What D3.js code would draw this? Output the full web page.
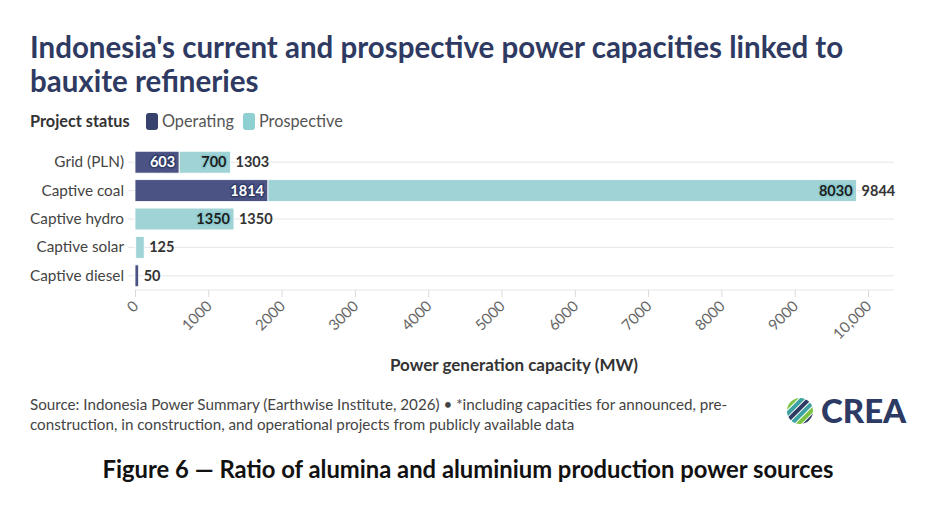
<!DOCTYPE html>
<html>
<head>
<meta charset="utf-8">
<script src="https://cdn.jsdelivr.net/npm/d3@7"></script>
<style>
  body { margin: 0; background: #fff; }
  svg { display: block; font-family: Lato, "Open Sans", sans-serif; }
</style>
</head>
<body>
<svg id="chart" width="949" height="507"></svg>
<script>
// chart data
var categories = ['Grid (PLN)', 'Captive coal', 'Captive hydro', 'Captive solar', 'Captive diesel'];
var operating = [603, 1814, 0, 10, 50];
var prospective = [700, 8030, 1350, 115, 0];
var totals = [1303, 9844, 1350, 125, 50];
var xTicks = [0, 1000, 2000, 3000, 4000, 5000, 6000, 7000, 8000, 9000, 10000];
var seriesNames = ['Operating', 'Prospective'];

var colOp = '#4a5383';
var colPro = '#9fd3d6';

var svg = d3.select('#chart');

var margin = { left: 135, right: 894, top: 148, bottom: 290 };

var x = d3.scaleLinear().domain([0, 10000]).range([margin.left, 868]);
var y = d3.scaleBand().domain(categories).range([margin.top, margin.bottom]).paddingInner(0.23).paddingOuter(0.115);

// title
var title = svg.append('text')
    .style('font-size', '29.5px').style('font-weight', 700)
    .style('fill', '#2f3a62');
title.append('tspan').attr('x', 30).attr('y', 58).text("Indonesia's current and prospective power capacities linked to");
title.append('tspan').attr('x', 30).attr('y', 92).text('bauxite refineries');

// legend
var legend = svg.append('g').attr('transform', 'translate(30,127)');
legend.append('text').attr('x', 0).attr('y', 0)
    .style('font-size', '16.3px').style('font-weight', 700).style('fill', '#333')
    .text('Project status');
var lx = 116;
seriesNames.forEach(function(name, i) {
    legend.append('rect')
        .attr('x', lx).attr('y', -14).attr('width', 12).attr('height', 17).attr('rx', 3)
        .attr('fill', i == 0 ? '#36416d' : '#8ecfd1');
    var t = legend.append('text').attr('x', lx + 16).attr('y', 0)
        .style('font-size', '16.3px').style('fill', '#555').text(name);
    lx += 16 + t.node().getComputedTextLength() + 9;
});

// gridlines at row centres
svg.append('g').selectAll('line').data(categories).enter().append('line')
    .attr('x1', 128).attr('x2', margin.right)
    .attr('y1', function(d) { return y(d) + y.bandwidth() / 2; })
    .attr('y2', function(d) { return y(d) + y.bandwidth() / 2; })
    .attr('stroke', '#e6e6e6').attr('stroke-width', 1);

// axis baseline
svg.append('line')
    .attr('x1', margin.left).attr('x2', margin.right)
    .attr('y1', margin.bottom).attr('y2', margin.bottom)
    .attr('stroke', '#e6e6e6');

// category labels
svg.append('g').selectAll('text').data(categories).enter().append('text')
    .attr('x', 124)
    .attr('y', function(d) { return y(d) + y.bandwidth() / 2 + 5; })
    .attr('text-anchor', 'end')
    .style('font-size', '15.3px').style('fill', '#444')
    .text(function(d) { return d; });

// bars
var rows = categories.map(function(c, i) {
    return { cat: c, op: operating[i], pro: prospective[i], total: totals[i] };
});

var barG = svg.append('g');
rows.forEach(function(r) {
    var yy = y(r.cat);
    var h = y.bandwidth();
    if (r.op > 0) {
        barG.append('rect')
            .attr('x', x(0)).attr('y', yy)
            .attr('width', x(r.op) - x(0)).attr('height', h)
            .attr('fill', colOp).attr('stroke', '#fff').attr('stroke-width', 0.8);
    }
    if (r.pro > 0) {
        barG.append('rect')
            .attr('x', x(r.op)).attr('y', yy)
            .attr('width', x(r.op + r.pro) - x(r.op)).attr('height', h)
            .attr('fill', colPro).attr('stroke', '#fff').attr('stroke-width', 0.8);
    }
    // segment labels inside when there is room
    if (x(r.op) - x(0) > 40) {
        barG.append('text')
            .attr('x', x(r.op) - 4).attr('y', yy + h / 2 + 5)
            .attr('text-anchor', 'end')
            .style('font-size', '14.5px').style('font-weight', 700)
            .style('fill', '#fff')
            .style('paint-order', 'stroke').style('stroke', '#323c68').style('stroke-width', 3)
            .style('stroke-linejoin', 'round')
            .text(r.op);
    }
    if (x(r.op + r.pro) - x(r.op) > 40) {
        barG.append('text')
            .attr('x', x(r.op + r.pro) - 4).attr('y', yy + h / 2 + 5)
            .attr('text-anchor', 'end')
            .style('font-size', '14.5px').style('font-weight', 700)
            .style('fill', '#1d1d1d')
            .style('paint-order', 'stroke').style('stroke', '#8ccacd').style('stroke-width', 3)
            .style('stroke-linejoin', 'round')
            .text(r.pro);
    }
    // total label
    barG.append('text')
        .attr('x', x(r.total) + 5).attr('y', yy + h / 2 + 5)
        .style('font-size', '14.5px').style('font-weight', 700)
        .style('fill', '#333')
        .text(r.total);
});

// x axis
var xAxis = d3.axisBottom(x)
    .tickValues(xTicks)
    .tickSize(7)
    .tickFormat(function(d) { return d >= 10000 ? d3.format(',')(d) : d; });

var axisG = svg.append('g')
    .attr('transform', 'translate(0,' + margin.bottom + ')')
    .call(xAxis);
axisG.select('.domain').remove();
axisG.selectAll('.tick line').attr('stroke', '#d9d9d9');
axisG.selectAll('.tick text')
    .attr('text-anchor', 'end')
    .attr('dx', 0).attr('dy', 0)
    .attr('y', 0).attr('x', 0)
    .attr('transform', 'translate(4,17) rotate(-45)')
    .style('font-size', '15px').style('fill', '#666')
    .style('font-family', 'Lato, sans-serif');

// axis title
svg.append('text')
    .attr('x', 514).attr('y', 371)
    .attr('text-anchor', 'middle')
    .style('font-size', '17px').style('font-weight', 700).style('fill', '#333')
    .text('Power generation capacity (MW)');

// source note
var src = svg.append('text').style('font-size', '15.2px').style('fill', '#444');
src.append('tspan').attr('x', 30).attr('y', 410)
    .text('Source: Indonesia Power Summary (Earthwise Institute, 2026) \u2022 *including capacities for announced, pre-');
src.append('tspan').attr('x', 30).attr('y', 430)
    .text('construction, in construction, and operational projects from publicly available data');

// CREA logo
var logo = svg.append('g').attr('transform', 'translate(800,411)');
var defs = svg.append('defs');
defs.append('clipPath').attr('id', 'logoClip')
    .append('circle').attr('cx', 0).attr('cy', 0).attr('r', 13);
var stripes = logo.append('g').attr('clip-path', 'url(#logoClip)');
var stripeCols = ['#7cc242', '#3aa2a0', '#2d3a64', '#3aa2a0', '#7cc242', '#2d3a64'];
stripeCols.forEach(function(c, i) {
    stripes.append('rect')
        .attr('x', -20).attr('y', -14 + i * 5)
        .attr('width', 40).attr('height', 4)
        .attr('fill', c)
        .attr('transform', 'rotate(-45)');
});
logo.append('text')
    .attr('x', 21).attr('y', 12)
    .style('font-size', '33px').style('font-weight', 900).style('fill', '#2d3a64')
    .style('font-family', 'Lato, sans-serif')
    .text('CREA');

// figure caption
svg.append('text')
    .attr('x', 468).attr('y', 478)
    .attr('text-anchor', 'middle')
    .style('font-size', '23.8px').style('font-weight', 700).style('fill', '#111')
    .text('Figure 6 \u2014 Ratio of alumina and aluminium production power sources');
</script>
</body>
</html>
